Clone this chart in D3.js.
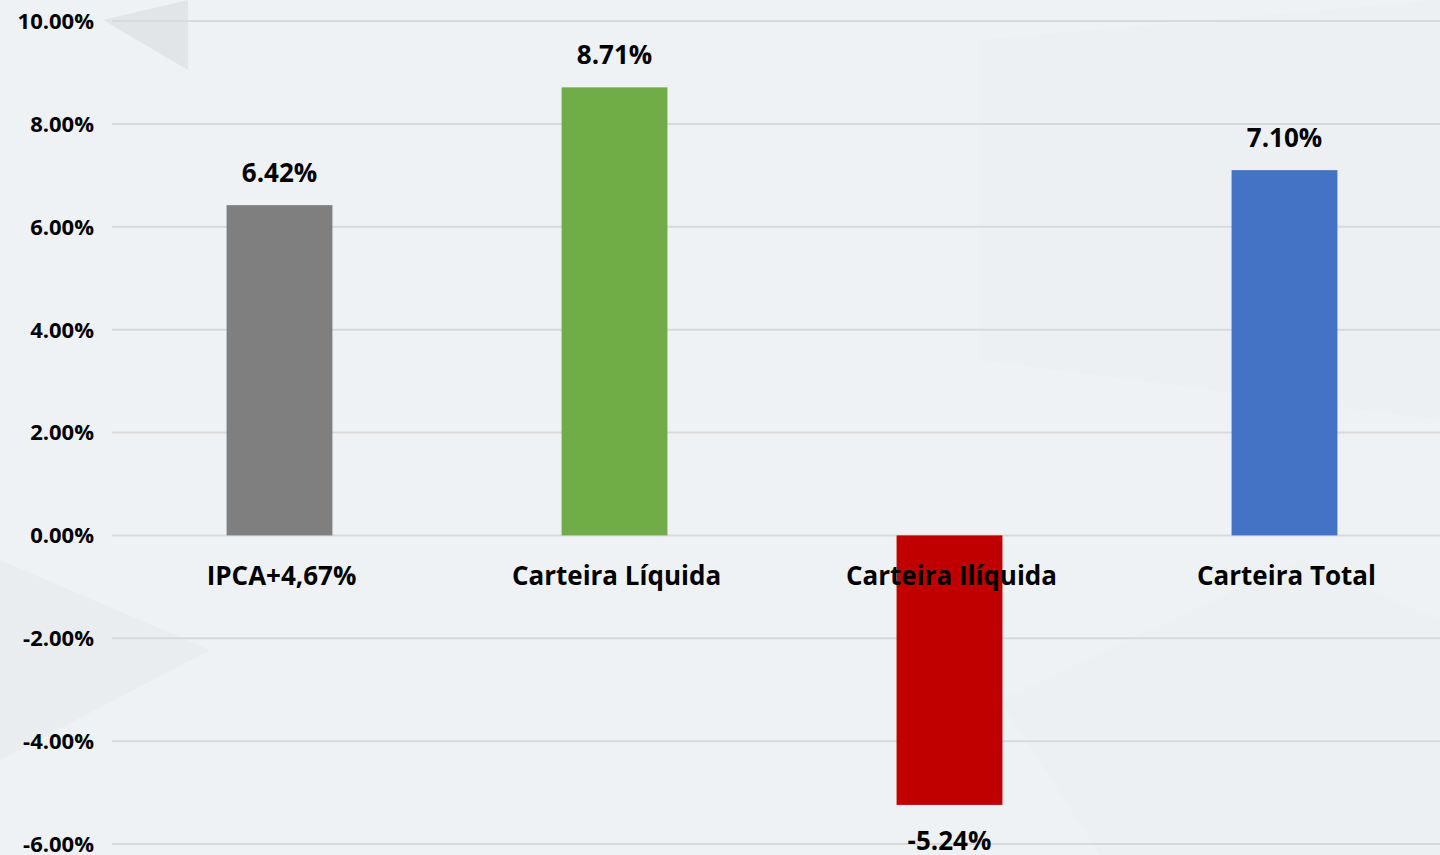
<!DOCTYPE html>
<html>
<head>
<meta charset="utf-8">
<script src="https://cdn.jsdelivr.net/npm/d3@7"></script>
<style>
  html, body { margin: 0; padding: 0; background: #eff2f4; }
  svg { display: block; }
  text { font-family: "Open Sans", Lato, sans-serif; font-weight: bold; fill: #000; }
</style>
</head>
<body>
<div id="chart"></div>
<script>
// data
var categories = ["IPCA+4,67%", "Carteira Líquida", "Carteira Ilíquida", "Carteira Total"];
var values = [6.42, 8.71, -5.24, 7.10];
var colors = ["#7f7f7f", "#70ad47", "#c00000", "#4472c4"];
var yTicks = [-6, -4, -2, 0, 2, 4, 6, 8, 10];

var W = 1440, H = 855;
var svg = d3.select("#chart").append("svg").attr("width", W).attr("height", H);

// plain hyphen for negatives, like the original
function pct(d) { return (d < 0 ? "-" : "") + Math.abs(d).toFixed(2) + "%"; }

// faint background shapes
var bg = svg.append("g");
bg.append("polygon").attr("points", "103,20 188,0 188,70").attr("fill", "#e2e5e8");
bg.append("polygon").attr("points", "980,40 1440,0 1440,420 980,360").attr("fill", "#eaedf0").attr("opacity", 0.45);
bg.append("polygon").attr("points", "0,560 210,650 0,760").attr("fill", "#e6e9ec").attr("opacity", 0.55);
bg.append("polygon").attr("points", "1000,700 1300,560 1440,620 1440,855 1100,855").attr("fill", "#eaedf0").attr("opacity", 0.45);

var x = d3.scaleBand()
    .domain(categories)
    .range([112, 1452])
    .paddingInner(0.684)
    .paddingOuter(0.342);

var y = d3.scaleLinear()
    .domain([-6, 10])
    .range([844, 21]);

// gridlines
svg.append("g").selectAll("line").data(yTicks).enter().append("line")
    .attr("x1", 112).attr("x2", W)
    .attr("y1", function(d){ return y(d); })
    .attr("y2", function(d){ return y(d); })
    .attr("stroke", "#d9d9d9").attr("stroke-width", 2);

// y axis labels
var yAxis = d3.axisLeft(y).tickValues(yTicks).tickSize(0).tickPadding(0).tickFormat(pct);
var yg = svg.append("g").attr("transform", "translate(94,0)").call(yAxis);
yg.select(".domain").remove();
yg.selectAll("text").attr("font-size", 22).attr("font-family", null).attr("dy", "0.34em");

// bars
svg.append("g").selectAll("rect").data(values).enter().append("rect")
    .attr("x", function(d, i){ return x(categories[i]); })
    .attr("width", x.bandwidth())
    .attr("y", function(d){ return y(Math.max(0, d)); })
    .attr("height", function(d){ return Math.abs(y(d) - y(0)); })
    .attr("fill", function(d, i){ return colors[i]; });

// category labels
svg.append("g").selectAll("text").data(categories).enter().append("text")
    .attr("x", function(d){ return x(d) + x.bandwidth() / 2 + 2; })
    .attr("y", 585)
    .attr("text-anchor", "middle")
    .attr("font-size", 26)
    .text(function(d){ return d; });

// value labels
svg.append("g").selectAll("text").data(values).enter().append("text")
    .attr("x", function(d, i){ return x(categories[i]) + x.bandwidth() / 2; })
    .attr("y", function(d){ return d >= 0 ? y(d) - 23 : y(d) + 45; })
    .attr("text-anchor", "middle")
    .attr("font-size", 26)
    .text(pct);
</script>
</body>
</html>
